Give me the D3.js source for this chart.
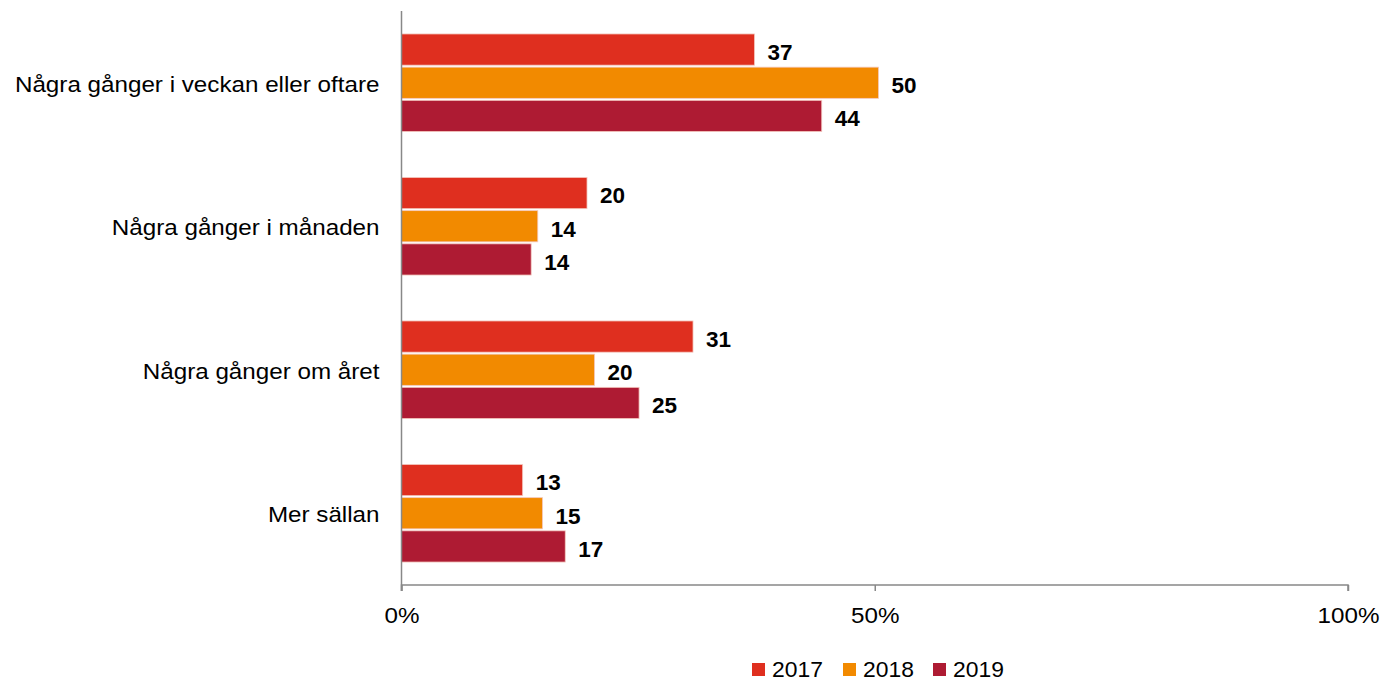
<!DOCTYPE html>
<html>
<head>
<meta charset="utf-8">
<script src="https://cdn.jsdelivr.net/npm/d3@7"></script>
<style>
  body { margin: 0; background: #fff; }
  text { font-family: Arial, "Liberation Sans", sans-serif; fill: #000; }
</style>
</head>
<body>
<div id="chart"></div>
<script>
const categories = [
  "Några gånger i veckan eller oftare",
  "Några gånger i månaden",
  "Några gånger om året",
  "Mer sällan"
];
const years = ["2017", "2018", "2019"];
const values2017 = [37.3, 19.6, 30.8, 12.8];
const values2018 = [50.4, 14.4, 20.4, 14.9];
const values2019 = [44.4, 13.7, 25.1, 17.3];
const xTicks = [0, 50, 100];
const colors = ["#df2f1f", "#f28a00", "#ae1b33"];

const seriesValues = [values2017, values2018, values2019];

const width = 1383, height = 683;
const margin = { top: 11, right: 35, bottom: 98, left: 401.5 };
const innerH = height - margin.top - margin.bottom;

// the source picture is a bit wider than plain Arial, stretch text horizontally
const stretch = (sel, k) => sel.each(function () {
  const len = this.getComputedTextLength();
  d3.select(this).attr("textLength", len * k).attr("lengthAdjust", "spacingAndGlyphs");
});

const svg = d3.select("#chart")
  .append("svg")
  .attr("width", width)
  .attr("height", height);

const g = svg.append("g")
  .attr("transform", `translate(${margin.left},${margin.top})`);

// scales
const x = d3.scaleLinear().domain([0, 100]).range([0, 946.5]);
const y0 = d3.scaleBand().domain(categories).range([0, innerH]).paddingInner(0.32).paddingOuter(0.16);
const y1 = d3.scaleBand().domain(years).range([0, y0.bandwidth()]).paddingInner(0.06);

// bars
const groups = g.selectAll(".grp")
  .data(categories)
  .join("g")
  .attr("class", "grp")
  .attr("transform", d => `translate(0,${y0(d)})`);

groups.each(function (cat, ci) {
  const grp = d3.select(this);
  years.forEach((yr, si) => {
    const v = seriesValues[si][ci];
    grp.append("rect")
      .attr("x", x(0))
      .attr("y", y1(yr))
      .attr("width", x(v) - x(0))
      .attr("height", y1.bandwidth())
      .attr("fill", colors[si])
      .attr("stroke", "#f4c9c0")
      .attr("stroke-width", 0.8);
    grp.append("text")
      .attr("x", x(v) + 13)
      .attr("y", y1(yr) + y1.bandwidth() / 2 + 4.5)
      .attr("dominant-baseline", "middle")
      .attr("font-size", 22.5)
      .attr("font-weight", "bold")
      .text(Math.round(v));
  });
});

// x axis
const xAxis = g.append("g")
  .attr("transform", `translate(0,${innerH})`)
  .call(d3.axisBottom(x).tickValues(xTicks).tickFormat(d => d + "%").tickSize(6).tickPadding(16));
xAxis.select(".domain").attr("stroke", "#888").attr("stroke-width", 1.5)
  .attr("d", `M0,6V0H${x(100)}V6`);
xAxis.selectAll(".tick line").attr("stroke", "#888").attr("stroke-width", 1.5);
xAxis.selectAll(".tick text")
  .attr("font-size", 22).attr("font-family", "Arial, 'Liberation Sans', sans-serif").attr("fill", "#000")
  .call(stretch, 1.1);

// y axis
const yAxis = g.append("g")
  .call(d3.axisLeft(y0).tickSize(0).tickPadding(22));
yAxis.select(".domain").attr("stroke", "#888").attr("stroke-width", 1.5)
  .attr("d", `M0,0V${innerH + 6}`);
yAxis.selectAll(".tick text")
  .attr("font-size", 22).attr("font-family", "Arial, 'Liberation Sans', sans-serif").attr("fill", "#000")
  .attr("dy", "0.4em")
  .call(stretch, 1.1);

// legend
const legend = svg.append("g").attr("transform", "translate(752,670)");
const legendX = [0, 91, 181];
years.forEach((yr, i) => {
  const item = legend.append("g").attr("transform", `translate(${legendX[i]},0)`);
  item.append("rect").attr("x", 0).attr("y", -7).attr("width", 13).attr("height", 13).attr("fill", colors[i]);
  item.append("text").attr("x", 20).attr("y", 1).attr("dominant-baseline", "middle")
    .attr("font-size", 22).text(yr)
    .call(stretch, 1.04);
});
</script>
</body>
</html>
